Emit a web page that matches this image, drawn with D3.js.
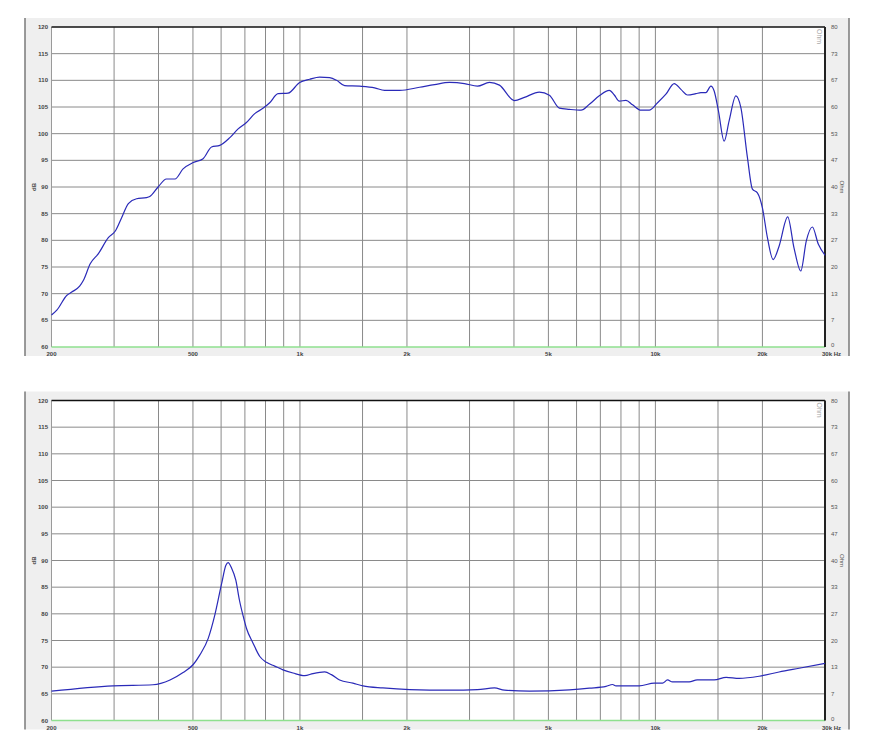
<!DOCTYPE html>
<html><head><meta charset="utf-8">
<script src="https://cdn.jsdelivr.net/npm/d3@7"></script>
<style>body{margin:0;background:#fff;}svg{display:block;}</style>
</head><body>
<script>
// ---- data ----
const freqTop = [200,207,221,228,240,246,257,271,289,302,315,329,347,370,378,399,421,445,469,501,534,564,595,635,670,707,746,787,822,868,926,998,1065,1136,1212,1268,1336,1472,1622,1730,1907,2170,2391,2635,2903,3158,3412,3640,4011,4280,4715,5032,5369,5728,6178,6520,6952,7420,7662,7914,8264,8624,9106,9608,10140,10704,11296,11796,12310,13000,13428,13868,14322,14632,15044,15610,16120,16840,17396,18152,18748,19362,20000,20660,21440,22280,23560,24540,25640,26580,27640,28740,30000];
const splTop = [66.0,66.9,69.7,70.3,71.4,72.5,75.6,77.5,80.5,81.7,84.25,86.9,87.8,88.0,88.2,90.0,91.5,91.5,93.4,94.6,95.3,97.5,97.8,99.25,100.9,102.1,103.75,104.75,105.8,107.5,107.6,109.6,110.2,110.6,110.5,110.0,109.0,108.9,108.6,108.1,108.1,108.7,109.2,109.6,109.4,108.9,109.6,109.1,106.2,106.8,107.8,107.2,104.8,104.56,104.4,105.5,107.1,108.1,107.25,106.1,106.25,105.4,104.4,104.4,105.8,107.4,109.4,108.3,107.25,107.5,107.7,107.7,108.9,108.0,104.25,98.6,102.4,107.1,104.9,95.5,89.6,88.9,86.1,80.5,76.4,78.9,84.4,78.6,74.25,79.9,82.5,79.25,77.2];
const freqBottom = [200,298,386,431,469,501,523,552,576,602,619,628,642,660,676,692,707,738,771,805,849,896,956,1031,1088,1174,1226,1293,1409,1504,1711,2034,2635,3158,3525,3761,4422,5728,6520,7262,7578,7746,9006,9924,10472,10816,11172,12446,13110,14632,15814,17204,19576,22280,25360,30000];
const splBottom = [65.5,66.5,66.7,67.6,69.0,70.5,72.3,75.4,79.75,85.65,89.1,89.6,88.6,86.3,82.5,79.6,77.3,74.5,72.0,70.9,70.2,69.5,68.9,68.4,68.8,69.1,68.6,67.6,67.0,66.5,66.1,65.8,65.7,65.8,66.1,65.7,65.5,65.75,66.06,66.4,66.75,66.5,66.5,67.0,67.0,67.6,67.25,67.25,67.6,67.6,68.1,67.9,68.3,69.1,69.8,70.7];
const xGrid = [300,400,500,600,700,800,900,1000,1500,2000,3000,4000,5000,6000,7000,8000,9000,10000,15000,20000];
const xLabelVals = [200,500,1000,2000,5000,10000,20000];
const xLabelText = ["200","500","1k","2k","5k","10k","20k"];
const dbTicks = [120,115,110,105,100,95,90,85,80,75,70,65,60];
const ohmLabels = ["80","73","67","60","53","47","40","33","27","20","13","7","0"];

// ---- drawing ----
const W = 875, H = 750;
const svg = d3.select("body").append("svg").attr("width", W).attr("height", H);
const x = d3.scaleLog().domain([200, 30000]).range([51.5, 825]);

function panel(top, freqs, vals) {
  const g = svg.append("g").attr("transform", `translate(0,${top})`);
  const y = d3.scaleLinear().domain([60, 120]).range([329, 9]);
  g.append("rect").attr("x", 25).attr("y", 0).attr("width", 824).attr("height", 338).attr("fill", "#efefef");
  g.append("line").attr("x1", 25).attr("x2", 25).attr("y1", 0).attr("y2", 338).attr("stroke", "#7a7a7a").attr("stroke-width", 1.5);
  g.append("line").attr("x1", 849).attr("x2", 849).attr("y1", 0).attr("y2", 338).attr("stroke", "#7a7a7a").attr("stroke-width", 1.5);
  g.append("rect").attr("x", x(200)).attr("y", y(120)).attr("width", x(30000) - x(200)).attr("height", y(60) - y(120)).attr("fill", "#fff");
  // horizontal grid
  g.selectAll(".hg").data(dbTicks.filter(d => d > 60 && d < 120)).enter().append("line")
    .attr("x1", x(200)).attr("x2", x(30000)).attr("y1", d => y(d)).attr("y2", d => y(d))
    .attr("stroke", "#8a8a8a").attr("stroke-width", 1);
  // vertical grid
  g.selectAll(".vg").data(xGrid).enter().append("line")
    .attr("x1", d => x(d)).attr("x2", d => x(d)).attr("y1", y(120)).attr("y2", y(60))
    .attr("stroke", "#8a8a8a").attr("stroke-width", 1);
  g.append("line").attr("x1", x(200)).attr("x2", x(200)).attr("y1", y(120)).attr("y2", y(60)).attr("stroke", "#9a9a9a").attr("stroke-width", 1);
  // green baseline
  g.append("line").attr("x1", x(200)).attr("x2", x(30000)).attr("y1", y(60)).attr("y2", y(60)).attr("stroke", "#8fe08f").attr("stroke-width", 1.5);
  // top black line, right dark line
  g.append("line").attr("x1", x(200)).attr("x2", x(30000)).attr("y1", y(120)).attr("y2", y(120)).attr("stroke", "#111").attr("stroke-width", 1.5);
  g.append("line").attr("x1", x(30000)).attr("x2", x(30000)).attr("y1", y(120)).attr("y2", y(60)).attr("stroke", "#222").attr("stroke-width", 2);
  // left tick labels
  g.selectAll(".yl").data(dbTicks).enter().append("text")
    .attr("x", 48).attr("y", d => y(d)).attr("dy", "0.35em").attr("text-anchor", "end")
    .attr("font-family", "Liberation Sans, Arial, sans-serif").attr("font-size", 6).attr("font-weight", "bold").attr("fill", "#444")
    .text(d => d);
  // right tick labels
  g.selectAll(".yr").data(dbTicks).enter().append("text")
    .attr("x", 831).attr("y", (d, i) => y(d) + (i === dbTicks.length - 1 ? -2 : 0)).attr("dy", "0.35em").attr("text-anchor", "start")
    .attr("font-family", "Liberation Sans, Arial, sans-serif").attr("font-size", 6).attr("fill", "#555")
    .text((d, i) => ohmLabels[i]);
  // x labels
  g.selectAll(".xl").data(xLabelVals).enter().append("text")
    .attr("x", d => x(d)).attr("y", y(60) + 9).attr("text-anchor", "middle")
    .attr("font-family", "Liberation Sans, Arial, sans-serif").attr("font-size", 6).attr("font-weight", "bold").attr("fill", "#444")
    .text((d, i) => xLabelText[i]);
  g.append("text").attr("x", 822).attr("y", y(60) + 9).attr("text-anchor", "start")
    .attr("font-family", "Liberation Sans, Arial, sans-serif").attr("font-size", 6).attr("font-weight", "bold").attr("fill", "#444")
    .text("30k Hz");
  // axis titles
  g.append("text").attr("transform", `translate(36,${(y(60) + y(120)) / 2}) rotate(-90)`).attr("text-anchor", "middle")
    .attr("font-family", "Liberation Sans, Arial, sans-serif").attr("font-size", 6).attr("font-weight", "bold").attr("fill", "#444").text("dB");
  g.append("text").attr("transform", `translate(840,${(y(60) + y(120)) / 2}) rotate(90)`).attr("text-anchor", "middle")
    .attr("font-family", "Liberation Sans, Arial, sans-serif").attr("font-size", 6).attr("fill", "#555").text("Ohm");
  g.append("text").attr("transform", `translate(817,${y(120) + 2}) rotate(90)`).attr("text-anchor", "start")
    .attr("font-family", "Liberation Sans, Arial, sans-serif").attr("font-size", 7).attr("fill", "#aaa").text("Ohm");
  // curve
  const line = d3.line().x((d, i) => x(freqs[i])).y(d => y(d)).curve(d3.curveMonotoneX);
  g.append("path").datum(vals).attr("d", line).attr("fill", "none").attr("stroke", "#2a2ab8").attr("stroke-width", 1.2);
}

panel(18, freqTop, splTop);
panel(391.5, freqBottom, splBottom);
</script>
</body></html>
